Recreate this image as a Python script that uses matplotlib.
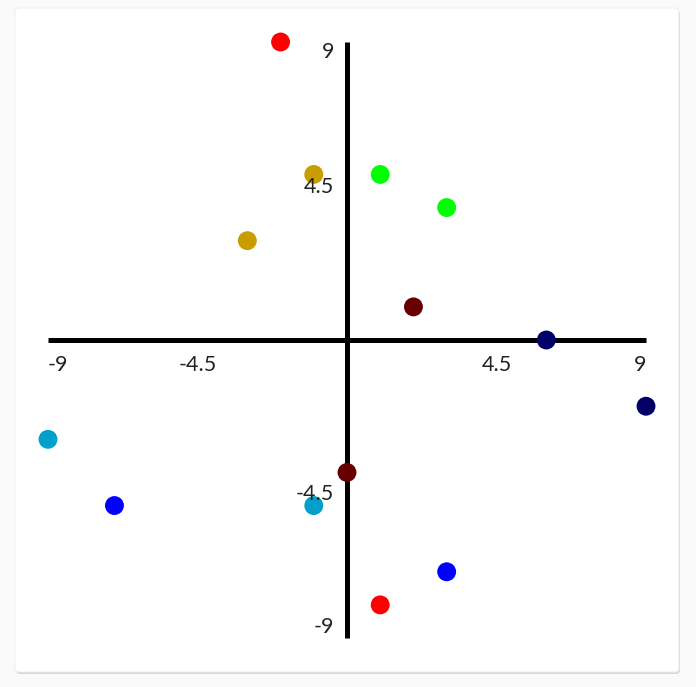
import matplotlib
matplotlib.use('Agg')
import matplotlib.pyplot as plt
from matplotlib.patches import FancyBboxPatch

# points (x, y) and their colours
xs = [-2, 1, -1, -3, 1, 3, 2, 0, 6, 9, -9, -1, -7, 3]
ys = [9, -8, 5, 3, 5, 4, 1, -4, 0, -2, -3, -5, -5, -7]
colors = ['#ff0000', '#ff0000', '#c99c00', '#c99c00', '#00ff00', '#00ff00',
          '#660000', '#660000', '#000066', '#000066', '#009fcc', '#009fcc',
          '#0000ff', '#0000ff']
ticks = [-9, -4.5, 4.5, 9]
tick_labels = ['-9', '-4.5', '4.5', '9']

W, H = 696, 687
fig = plt.figure(figsize=(W / 100, H / 100), dpi=100)
fig.patch.set_facecolor('#fafafa')

# card with soft shadow
shadow = FancyBboxPatch((16 / W, (H - 674) / H), 664 / W, 664 / H,
                        boxstyle='round,pad=0,rounding_size=0.006',
                        transform=fig.transFigure, facecolor='#d8d8d8',
                        edgecolor='none', zorder=0)
card = FancyBboxPatch((15 / W, (H - 672) / H), 664 / W, 664 / H,
                      boxstyle='round,pad=0,rounding_size=0.006',
                      transform=fig.transFigure, facecolor='white',
                      edgecolor='#ececec', linewidth=0.6, zorder=1)
fig.patches.extend([shadow, card])

ax = fig.add_axes([0, 0, 1, 1])
ax.set_facecolor('none')
ax.set_zorder(2)
sx = 598 / 18
sy = 596 / 18
ax.set_xlim(-9 - 48 / sx, 9 + (W - 646) / sx)
ax.set_ylim(-9 - (H - 638) / sy, 9 + 42 / sy)
ax.axis('off')

lw = 5 * 72 / 100
ax.plot([-9, 9], [0, 0], color='black', lw=lw, solid_capstyle='butt', zorder=1)
ax.plot([0, 0], [-9, 9], color='black', lw=lw, solid_capstyle='butt', zorder=1)

ax.scatter(xs, ys, s=185, c=colors, linewidths=0, zorder=3)

font = dict(family=['Lato', 'DejaVu Sans'], weight='normal', fontsize=15.5,
            color='#222222', zorder=4)
# x tick labels below the axis
xal = ['left', 'center', 'center', 'right']
for t, lab, ha in zip(ticks, tick_labels, xal):
    ax.annotate(lab, (t, 0), xytext=(0, -25 * 0.72), textcoords='offset points',
                ha=ha, va='center', **font)
# y tick labels left of the axis
ydy = [11, -4.5, 4.5, -10]
for t, lab, dy in zip(ticks, tick_labels, ydy):
    ax.annotate(lab, (0, t), xytext=(-13 * 0.72, dy * 0.72), textcoords='offset points',
                ha='right', va='center', **font)

plt.savefig('out.png', dpi=100, facecolor=fig.get_facecolor())
